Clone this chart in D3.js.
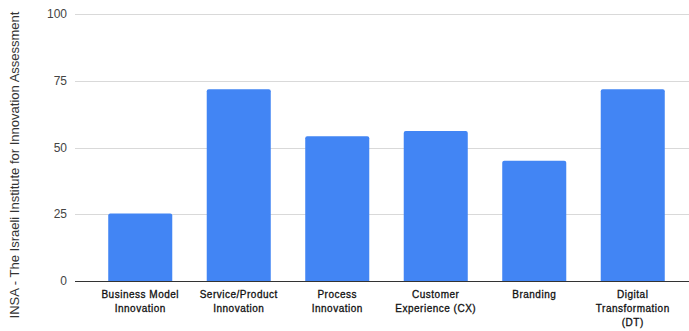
<!DOCTYPE html>
<html><head><meta charset="utf-8">
<script src="https://cdn.jsdelivr.net/npm/d3@7"></script>
<style>body{margin:0;background:#fff}svg{display:block}</style>
</head><body>
<svg id="c" width="689" height="331"></svg>
<script>
const categories = [
  ["Business Model", "Innovation"],
  ["Service/Product", "Innovation"],
  ["Process", "Innovation"],
  ["Customer", "Experience (CX)"],
  ["Branding"],
  ["Digital", "Transformation", "(DT)"]
];
const values = [25.3, 71.8, 54.2, 56.2, 45.0, 71.8];
const yTicks = [0, 25, 50, 75, 100];
const yTitle = "INSA - The Israeli Institute for Innovation Assessment";

const svg = d3.select("#c");
const y = d3.scaleLinear().domain([0, 100]).range([281, 14]);
const x = d3.scaleBand().domain(d3.range(categories.length)).range([91, 682]).paddingInner(0.35).paddingOuter(0.175);

// gridlines
svg.append("g").selectAll("line").data(yTicks.filter(d => d > 0)).join("line")
  .attr("x1", 75).attr("x2", 689)
  .attr("y1", d => Math.round(y(d)) + 0.5).attr("y2", d => Math.round(y(d)) + 0.5)
  .attr("stroke", "#d9d9d9").attr("stroke-width", 1);

// y tick labels
svg.append("g").selectAll("text").data(yTicks).join("text")
  .attr("x", 67).attr("y", d => y(d)).attr("dy", "0.35em")
  .attr("text-anchor", "end")
  .attr("font-family", "Arial, 'Liberation Sans', sans-serif").attr("font-size", 12)
  .attr("fill", "#444").text(d => d);

// bars
svg.append("g").selectAll("path").data(values).join("path")
  .attr("d", (d, i) => {
    const x0 = x(i), w = x.bandwidth(), y0 = y(d), y1 = y(0), r = 2;
    return `M${x0},${y1}V${y0 + r}Q${x0},${y0} ${x0 + r},${y0}H${x0 + w - r}Q${x0 + w},${y0} ${x0 + w},${y0 + r}V${y1}Z`;
  })
  .attr("fill", "#4285f4");

// baseline
svg.append("line").attr("x1", 75).attr("x2", 689)
  .attr("y1", Math.round(y(0)) + 0.5).attr("y2", Math.round(y(0)) + 0.5)
  .attr("stroke", "#333").attr("stroke-width", 1);

// x labels
const xl = svg.append("g").selectAll("text").data(categories).join("text")
  .attr("x", (d, i) => x(i) + x.bandwidth() / 2)
  .attr("text-anchor", "middle")
  .attr("font-family", "Arial, 'Liberation Sans', sans-serif").attr("font-size", 10)
  .attr("letter-spacing", "0.5px")
  .attr("fill", "#111").attr("stroke", "#111").attr("stroke-width", 0.3);
xl.each(function(d) {
  d3.select(this).selectAll("tspan").data(d).join("tspan")
    .attr("x", d3.select(this).attr("x"))
    .attr("y", (t, j) => 298 + j * 14)
    .text(t => t);
});

// y title
svg.append("text")
  .attr("transform", "translate(19,165) rotate(-90)")
  .attr("text-anchor", "middle")
  .attr("font-family", "Arial, 'Liberation Sans', sans-serif").attr("font-size", 13)
  .attr("fill", "#333").text(yTitle);
</script>
</body></html>
